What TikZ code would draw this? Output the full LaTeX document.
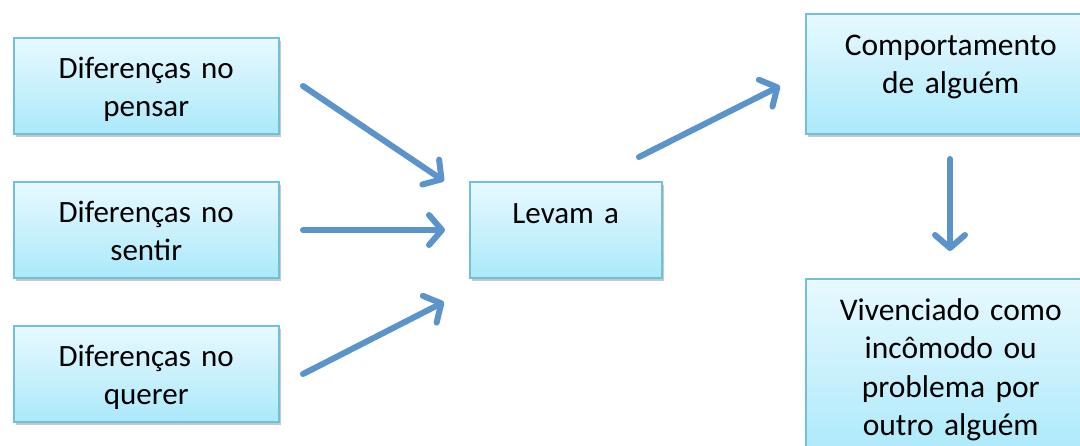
\documentclass[tikz,border=0pt]{standalone}
\usepackage{fontspec}
\setmainfont{Carlito}
\usetikzlibrary{arrows.meta,shadows}
\definecolor{boxtop}{HTML}{E8F9FE}
\definecolor{boxbot}{HTML}{ABE9FB}
\definecolor{boxline}{HTML}{72C0D6}
\definecolor{arrowc}{HTML}{5B93CB}
\begin{document}
\begin{tikzpicture}[x=1pt,y=-1pt,
  box/.style={draw=boxline, line width=1.5pt, top color=boxtop, bottom color=boxbot,
    drop shadow={shadow xshift=2pt, shadow yshift=-3pt, opacity=0.3, fill=black!70},
    inner sep=0pt, anchor=north west},
  txt/.style={font=\fontsize{31}{38.5}\selectfont, text width=262pt, align=center, inner sep=0pt, anchor=base},
  arr/.style={draw=arrowc, line width=6pt, line cap=round,
    -{Straight Barb[length=13pt, width=30pt, round]}}]
\useasboundingbox (0,0) rectangle (1080,445);
\clip (0,0) rectangle (1080,445);
\fill[white] (0,0) rectangle (1080,445);
% boxes
\node[box, minimum width=265pt, minimum height=96pt] (b1) at (13,37) {};
\node[box, minimum width=265pt, minimum height=96pt] (b2) at (13,181) {};
\node[box, minimum width=265pt, minimum height=96pt] (b3) at (13,325) {};
\node[box, minimum width=192pt, minimum height=96pt] (bl) at (469,181) {};
\node[box, minimum width=290pt, minimum height=120pt] (bc) at (805,13) {};
\node[box, minimum width=290pt, minimum height=180pt] (bv) at (805,278) {};
% texts
\node[txt] (t1) at ([yshift=-41pt]b1.north) {Diferenças no\\pensar};
\node[txt] (t2) at ([yshift=-41pt]b2.north) {Diferenças no\\sentir};
\node[txt] (t3) at ([yshift=-41pt]b3.north) {Diferenças no\\querer};
\node[txt] (tl) at ([yshift=-42pt]bl.north) {Levam a};
\node[txt, font=\fontsize{31.5}{38.5}\selectfont] (tc) at ([yshift=-42pt]bc.north) {Comportamento\\de alguém};
\node[txt, font=\fontsize{31.5}{38.5}\selectfont] (tv) at ([yshift=-42pt]bv.north) {Vivenciado como\\incômodo ou\\problema por\\outro alguém};
% arrow end points
\coordinate (a1s) at (303,86);  \coordinate (a1e) at (444,181);
\coordinate (a2s) at (303,230); \coordinate (a2e) at (445,230);
\coordinate (a3s) at (303,374); \coordinate (a3e) at (444,302);
\coordinate (a4s) at (639,157); \coordinate (a4e) at (780,86);
\coordinate (a5s) at (950,159); \coordinate (a5e) at (950,251);
\draw[arr] (a1s) -- (a1e);
\draw[arr] (a2s) -- (a2e);
\draw[arr] (a3s) -- (a3e);
\draw[arr] (a4s) -- (a4e);
\draw[arr] (a5s) -- (a5e);
\end{tikzpicture}
\end{document}
